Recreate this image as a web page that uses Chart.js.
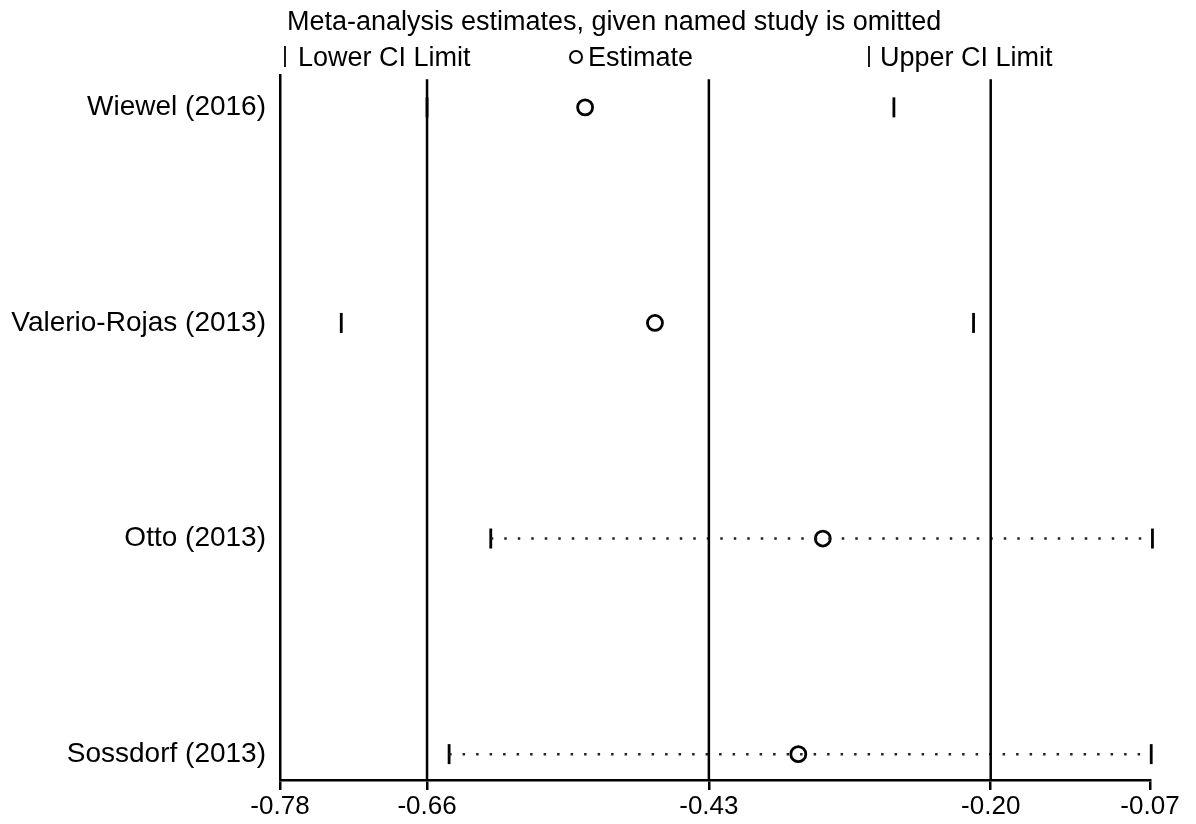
<!DOCTYPE html>
<html>
<head>
<meta charset="utf-8">
<title>Meta-analysis estimates, given named study is omitted</title>
<script src="https://cdn.jsdelivr.net/npm/chart.js@4"></script>
<style>
  html, body { margin: 0; padding: 0; background: #fff; }
  #wrap { width: 1196px; height: 824px; position: relative; }
</style>
</head>
<body>
<div id="wrap"><canvas id="chart" width="1196" height="824"></canvas></div>
<script>
// Leave-one-out sensitivity analysis: pooled estimate and CI when each study is omitted
const studies   = ['Wiewel (2016)', 'Valerio-Rojas (2013)', 'Otto (2013)', 'Sossdorf (2013)'];
const estimates = [-0.531, -0.474, -0.337, -0.357];
const lowerCI   = [-0.660, -0.730, -0.608, -0.642];
const upperCI   = [-0.279, -0.214, -0.068, -0.069];
// rows whose CI span is drawn as a dotted connector
const dottedRows = [2, 3];
// overall pooled estimate with its lower and upper CI limits
const overallLines = [-0.66, -0.43, -0.20];
const xTickValues  = [-0.78, -0.66, -0.43, -0.20, -0.07];

const Y_MIN = 0.85, Y_MAX = 4.12;
const FONT = '"Liberation Sans", Arial, sans-serif';
const rowY = i => i + 1;

const datasets = [];

overallLines.forEach(v => {
  datasets.push({
    label: 'ref',
    data: [{x: v, y: Y_MIN + 0.02}, {x: v, y: Y_MAX}],
    showLine: true,
    borderColor: '#000',
    borderWidth: 2.5,
    pointRadius: 0,
    pointHoverRadius: 0
  });
});

dottedRows.forEach(i => {
  datasets.push({
    label: 'span',
    data: [{x: lowerCI[i], y: rowY(i)}, {x: upperCI[i], y: rowY(i)}],
    showLine: true,
    borderColor: '#222',
    borderWidth: 2.5,
    borderDash: [2.5, 11],
    pointRadius: 0,
    pointHoverRadius: 0
  });
});

datasets.push({
  label: 'Lower CI Limit',
  data: lowerCI.map((v, i) => ({x: v, y: rowY(i)})),
  pointStyle: 'line',
  rotation: 90,
  pointRadius: 10,
  borderColor: '#000',
  borderWidth: 2.8,
  showLine: false,
  clip: false
});
datasets.push({
  label: 'Upper CI Limit',
  data: upperCI.map((v, i) => ({x: v, y: rowY(i)})),
  pointStyle: 'line',
  rotation: 90,
  pointRadius: 10,
  borderColor: '#000',
  borderWidth: 2.8,
  showLine: false,
  clip: false
});
datasets.push({
  label: 'Estimate',
  data: estimates.map((v, i) => ({x: v, y: rowY(i)})),
  pointStyle: 'circle',
  pointRadius: 7.5,
  backgroundColor: '#fff',
  borderColor: '#000',
  borderWidth: 2.8,
  showLine: false,
  clip: false
});

// Title and legend row drawn above the plot
const headerPlugin = {
  id: 'header',
  afterDraw(chart) {
    const ctx = chart.ctx;
    ctx.save();
    ctx.fillStyle = '#000';
    ctx.strokeStyle = '#000';
    ctx.textBaseline = 'alphabetic';
    ctx.font = '27px ' + FONT;
    ctx.fillText('Meta-analysis estimates, given named study is omitted', 287, 30);

    const ly = 66;
    ctx.lineWidth = 1.8;
    // lower CI marker
    ctx.beginPath(); ctx.moveTo(285, 46); ctx.lineTo(285, 67); ctx.stroke();
    ctx.fillText('Lower CI Limit', 298, ly);
    // estimate marker
    ctx.lineWidth = 2;
    ctx.beginPath(); ctx.arc(576, 57, 6, 0, Math.PI * 2); ctx.stroke();
    ctx.fillText('Estimate', 588, ly);
    // upper CI marker
    ctx.lineWidth = 1.8;
    ctx.beginPath(); ctx.moveTo(869, 46); ctx.lineTo(869, 67); ctx.stroke();
    ctx.fillText('Upper CI Limit', 880, ly);
    ctx.restore();
  }
};

new Chart(document.getElementById('chart'), {
  type: 'scatter',
  data: { datasets },
  options: {
    responsive: false,
    animation: false,
    layout: { padding: { top: 75, right: 46, left: 0, bottom: 0 } },
    plugins: {
      legend: { display: false },
      tooltip: { enabled: false },
      title: { display: false }
    },
    scales: {
      x: {
        type: 'linear',
        min: -0.78,
        max: -0.07,
        afterBuildTicks: s => { s.ticks = xTickValues.map(v => ({value: v})); },
        afterFit: s => { s.height = 44; },
        ticks: {
          color: '#000',
          font: { family: FONT, size: 26 },
          padding: 1,
          maxRotation: 0,
          autoSkip: false,
          callback: v => v.toFixed(2)
        },
        grid: { display: true, drawOnChartArea: false, drawTicks: true, tickLength: 10, color: '#000', lineWidth: 2.5 },
        border: { display: true, color: '#000', width: 2.5 }
      },
      y: {
        type: 'linear',
        reverse: true,
        min: Y_MIN,
        max: Y_MAX,
        afterBuildTicks: s => { s.ticks = studies.map((_, i) => ({value: rowY(i)})); },
        afterFit: s => { s.width = 280; },
        ticks: {
          color: '#000',
          font: { family: FONT, size: 28 },
          padding: 6,
          autoSkip: false,
          callback: v => studies[v - 1]
        },
        grid: { display: false },
        border: { display: true, color: '#000', width: 2.5 }
      }
    }
  },
  plugins: [headerPlugin]
});
</script>
</body>
</html>
